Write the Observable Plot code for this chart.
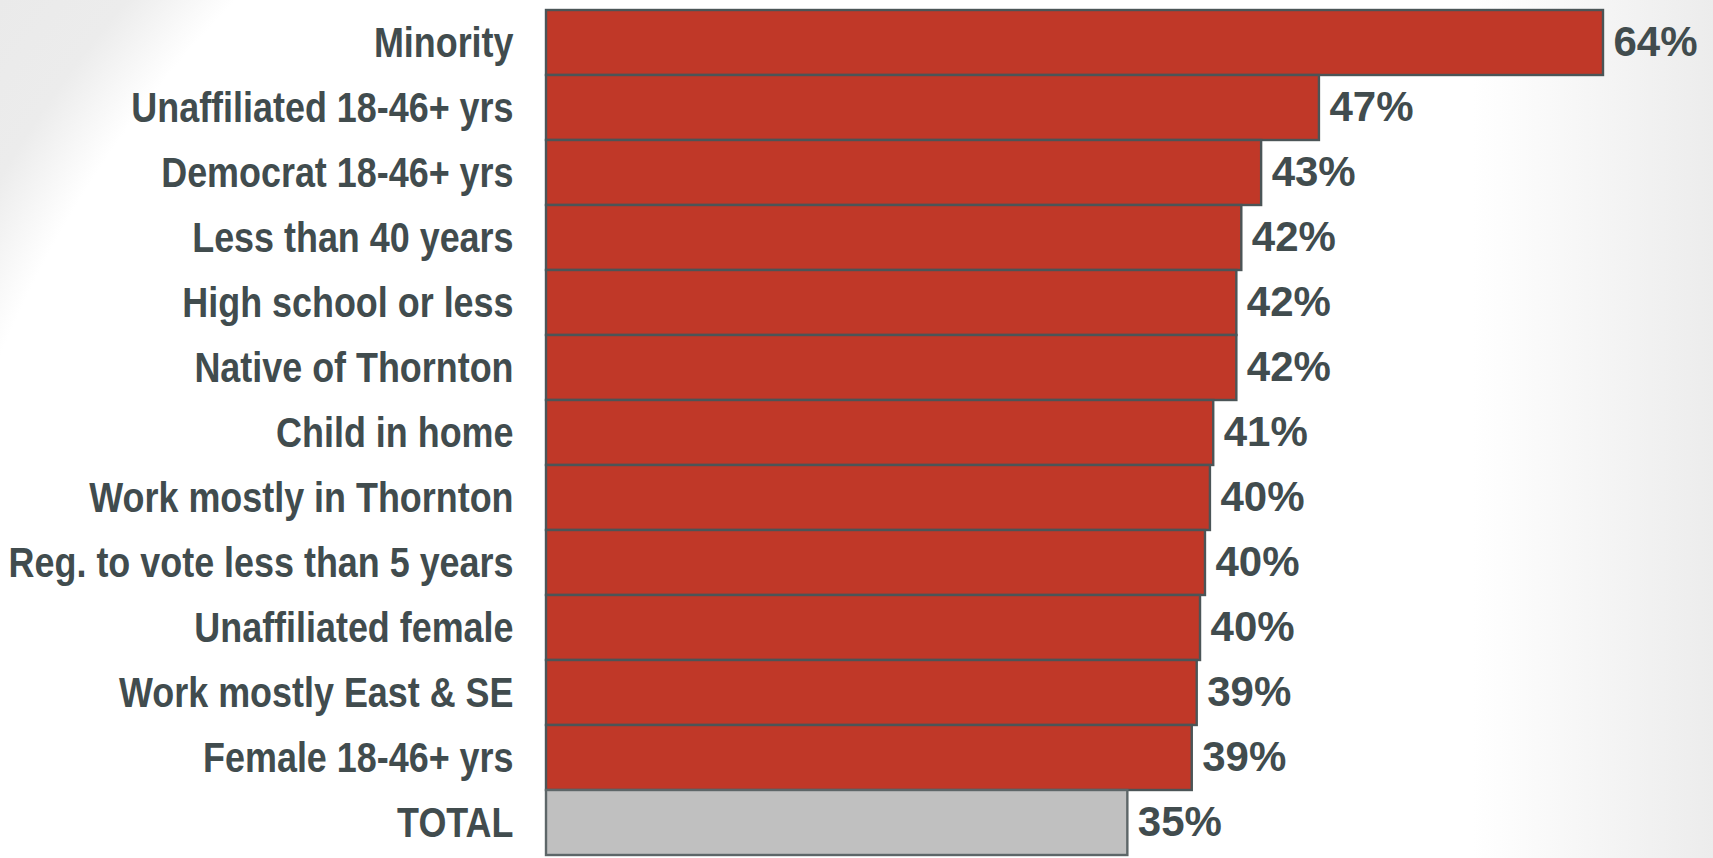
<!DOCTYPE html>
<html>
<head>
<meta charset="utf-8">
<script src="https://cdn.jsdelivr.net/npm/d3@7"></script>
<script src="https://cdn.jsdelivr.net/npm/@observablehq/plot@0.6"></script>
<style>
  html, body { margin: 0; padding: 0; }
  body {
    width: 1713px; height: 858px; overflow: hidden;
    background:
      linear-gradient(to right, rgba(255,255,255,0) 86%, rgba(228,228,228,0.7) 100%),
      radial-gradient(circle at 1035px 785px, #ffffff 0px, #ffffff 1120px, #ececec 1200px, #e6e6e6 1500px);
  }
</style>
</head>
<body>
<div id="chart"></div>
<script>
const categories = [
  "Minority",
  "Unaffiliated 18-46+ yrs",
  "Democrat 18-46+ yrs",
  "Less than 40 years",
  "High school or less",
  "Native of Thornton",
  "Child in home",
  "Work mostly in Thornton",
  "Reg. to vote less than 5 years",
  "Unaffiliated female",
  "Work mostly East & SE",
  "Female 18-46+ yrs",
  "TOTAL"
];
const values = [64.0, 46.8, 43.3, 42.1, 41.8, 41.8, 40.4, 40.2, 39.9, 39.6, 39.4, 39.1, 35.2];
const valueLabels = ["64%", "47%", "43%", "42%", "42%", "42%", "41%", "40%", "40%", "40%", "39%", "39%", "35%"];

const data = categories.map((c, i) => ({category: c, value: values[i], label: valueLabels[i]}));

const textColor = "#414c4e";
const chart = Plot.plot({
  width: 1713,
  height: 858,
  marginTop: 6,
  marginBottom: 0,
  marginLeft: 546,
  marginRight: 110,
  style: {background: "transparent", overflow: "visible"},
  x: {domain: [0, 64], range: [546, 1603], axis: null},
  y: {domain: categories, range: [6, 858], padding: 0, axis: null},
  color: {type: "identity"},
  marks: [
    Plot.barX(data, {
      x: "value",
      y: "category",
      fill: d => d.category === "TOTAL" ? "#c0c0c0" : "#c03828",
      stroke: d => d.category === "TOTAL" ? "#5d6668" : "#4b5557",
      strokeWidth: 2.4
    }),
    Plot.text(data, {
      x: 0,
      y: "category",
      text: "category",
      textAnchor: "end",
      dx: -33,
      fill: textColor,
      fontSize: 43,
      fontWeight: "bold",
      fontFamily: "'Liberation Sans', Arial, sans-serif",
      className: "cat-label"
    }),
    Plot.text(data, {
      x: "value",
      y: "category",
      text: "label",
      textAnchor: "start",
      dx: 10,
      fill: textColor,
      fontSize: 42,
      fontWeight: "bold",
      fontFamily: "'Liberation Sans', Arial, sans-serif"
    })
  ]
});
document.getElementById("chart").appendChild(chart);
// condense the category labels like a narrow typeface
chart.querySelectorAll(".cat-label text").forEach(el => {
  const w = el.getComputedTextLength();
  el.setAttribute("textLength", (w * 0.835).toFixed(1));
  el.setAttribute("lengthAdjust", "spacingAndGlyphs");
});
</script>
</body>
</html>
